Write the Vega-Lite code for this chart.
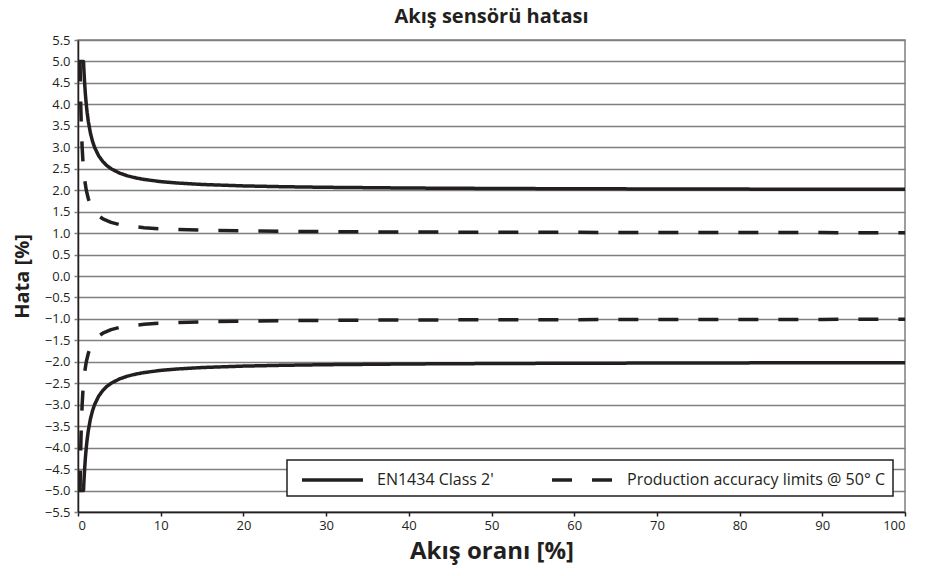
{
  "$schema": "https://vega.github.io/schema/vega-lite/v6.json",
  "width": 827,
  "height": 472,
  "autosize": {"type": "none"},
  "padding": {"left": 78, "top": 40, "right": 25, "bottom": 64},
  "background": "white",
  "title": {
    "text": "Akış sensörü hatası",
    "font": "Open Sans",
    "fontSize": 20,
    "fontWeight": "bold",
    "color": "#231f20",
    "offset": 7
  },
  "config": {
    "font": "Open Sans",
    "view": {"stroke": "#7f7f7f", "strokeWidth": 1.5},
    "legend": {"strokeWidth": 1.5}
  },
  "data": {
    "values": [
      {"x": 0, "y": 5, "series": "EN1434 Class 2'", "part": "s+"},
      {"x": 0.667, "y": 5, "series": "EN1434 Class 2'", "part": "s+"},
      {"x": 0.7, "y": 4.857, "series": "EN1434 Class 2'", "part": "s+"},
      {"x": 0.75, "y": 4.667, "series": "EN1434 Class 2'", "part": "s+"},
      {"x": 0.8, "y": 4.5, "series": "EN1434 Class 2'", "part": "s+"},
      {"x": 0.9, "y": 4.222, "series": "EN1434 Class 2'", "part": "s+"},
      {"x": 1, "y": 4, "series": "EN1434 Class 2'", "part": "s+"},
      {"x": 1.1, "y": 3.818, "series": "EN1434 Class 2'", "part": "s+"},
      {"x": 1.25, "y": 3.6, "series": "EN1434 Class 2'", "part": "s+"},
      {"x": 1.5, "y": 3.333, "series": "EN1434 Class 2'", "part": "s+"},
      {"x": 1.75, "y": 3.143, "series": "EN1434 Class 2'", "part": "s+"},
      {"x": 2, "y": 3, "series": "EN1434 Class 2'", "part": "s+"},
      {"x": 2.5, "y": 2.8, "series": "EN1434 Class 2'", "part": "s+"},
      {"x": 3, "y": 2.667, "series": "EN1434 Class 2'", "part": "s+"},
      {"x": 3.5, "y": 2.571, "series": "EN1434 Class 2'", "part": "s+"},
      {"x": 4, "y": 2.5, "series": "EN1434 Class 2'", "part": "s+"},
      {"x": 5, "y": 2.4, "series": "EN1434 Class 2'", "part": "s+"},
      {"x": 6, "y": 2.333, "series": "EN1434 Class 2'", "part": "s+"},
      {"x": 7, "y": 2.286, "series": "EN1434 Class 2'", "part": "s+"},
      {"x": 8, "y": 2.25, "series": "EN1434 Class 2'", "part": "s+"},
      {"x": 10, "y": 2.2, "series": "EN1434 Class 2'", "part": "s+"},
      {"x": 12, "y": 2.167, "series": "EN1434 Class 2'", "part": "s+"},
      {"x": 15, "y": 2.133, "series": "EN1434 Class 2'", "part": "s+"},
      {"x": 20, "y": 2.1, "series": "EN1434 Class 2'", "part": "s+"},
      {"x": 25, "y": 2.08, "series": "EN1434 Class 2'", "part": "s+"},
      {"x": 30, "y": 2.067, "series": "EN1434 Class 2'", "part": "s+"},
      {"x": 40, "y": 2.05, "series": "EN1434 Class 2'", "part": "s+"},
      {"x": 50, "y": 2.04, "series": "EN1434 Class 2'", "part": "s+"},
      {"x": 60, "y": 2.033, "series": "EN1434 Class 2'", "part": "s+"},
      {"x": 70, "y": 2.029, "series": "EN1434 Class 2'", "part": "s+"},
      {"x": 80, "y": 2.025, "series": "EN1434 Class 2'", "part": "s+"},
      {"x": 90, "y": 2.022, "series": "EN1434 Class 2'", "part": "s+"},
      {"x": 100, "y": 2.02, "series": "EN1434 Class 2'", "part": "s+"},

      {"x": 0, "y": -5, "series": "EN1434 Class 2'", "part": "s-"},
      {"x": 0.667, "y": -5, "series": "EN1434 Class 2'", "part": "s-"},
      {"x": 0.7, "y": -4.857, "series": "EN1434 Class 2'", "part": "s-"},
      {"x": 0.75, "y": -4.667, "series": "EN1434 Class 2'", "part": "s-"},
      {"x": 0.8, "y": -4.5, "series": "EN1434 Class 2'", "part": "s-"},
      {"x": 0.9, "y": -4.222, "series": "EN1434 Class 2'", "part": "s-"},
      {"x": 1, "y": -4, "series": "EN1434 Class 2'", "part": "s-"},
      {"x": 1.1, "y": -3.818, "series": "EN1434 Class 2'", "part": "s-"},
      {"x": 1.25, "y": -3.6, "series": "EN1434 Class 2'", "part": "s-"},
      {"x": 1.5, "y": -3.333, "series": "EN1434 Class 2'", "part": "s-"},
      {"x": 1.75, "y": -3.143, "series": "EN1434 Class 2'", "part": "s-"},
      {"x": 2, "y": -3, "series": "EN1434 Class 2'", "part": "s-"},
      {"x": 2.5, "y": -2.8, "series": "EN1434 Class 2'", "part": "s-"},
      {"x": 3, "y": -2.667, "series": "EN1434 Class 2'", "part": "s-"},
      {"x": 3.5, "y": -2.571, "series": "EN1434 Class 2'", "part": "s-"},
      {"x": 4, "y": -2.5, "series": "EN1434 Class 2'", "part": "s-"},
      {"x": 5, "y": -2.4, "series": "EN1434 Class 2'", "part": "s-"},
      {"x": 6, "y": -2.333, "series": "EN1434 Class 2'", "part": "s-"},
      {"x": 7, "y": -2.286, "series": "EN1434 Class 2'", "part": "s-"},
      {"x": 8, "y": -2.25, "series": "EN1434 Class 2'", "part": "s-"},
      {"x": 10, "y": -2.2, "series": "EN1434 Class 2'", "part": "s-"},
      {"x": 12, "y": -2.167, "series": "EN1434 Class 2'", "part": "s-"},
      {"x": 15, "y": -2.133, "series": "EN1434 Class 2'", "part": "s-"},
      {"x": 20, "y": -2.1, "series": "EN1434 Class 2'", "part": "s-"},
      {"x": 25, "y": -2.08, "series": "EN1434 Class 2'", "part": "s-"},
      {"x": 30, "y": -2.067, "series": "EN1434 Class 2'", "part": "s-"},
      {"x": 40, "y": -2.05, "series": "EN1434 Class 2'", "part": "s-"},
      {"x": 50, "y": -2.04, "series": "EN1434 Class 2'", "part": "s-"},
      {"x": 60, "y": -2.033, "series": "EN1434 Class 2'", "part": "s-"},
      {"x": 70, "y": -2.029, "series": "EN1434 Class 2'", "part": "s-"},
      {"x": 80, "y": -2.025, "series": "EN1434 Class 2'", "part": "s-"},
      {"x": 90, "y": -2.022, "series": "EN1434 Class 2'", "part": "s-"},
      {"x": 100, "y": -2.02, "series": "EN1434 Class 2'", "part": "s-"},

      {"x": 0.25, "y": 5, "series": "Production accuracy limits @ 50° C", "part": "d+"},
      {"x": 0.3, "y": 4.333, "series": "Production accuracy limits @ 50° C", "part": "d+"},
      {"x": 0.35, "y": 3.857, "series": "Production accuracy limits @ 50° C", "part": "d+"},
      {"x": 0.4, "y": 3.5, "series": "Production accuracy limits @ 50° C", "part": "d+"},
      {"x": 0.5, "y": 3, "series": "Production accuracy limits @ 50° C", "part": "d+"},
      {"x": 0.6, "y": 2.667, "series": "Production accuracy limits @ 50° C", "part": "d+"},
      {"x": 0.7, "y": 2.429, "series": "Production accuracy limits @ 50° C", "part": "d+"},
      {"x": 0.8, "y": 2.25, "series": "Production accuracy limits @ 50° C", "part": "d+"},
      {"x": 1, "y": 2, "series": "Production accuracy limits @ 50° C", "part": "d+"},
      {"x": 1.25, "y": 1.8, "series": "Production accuracy limits @ 50° C", "part": "d+"},
      {"x": 1.5, "y": 1.667, "series": "Production accuracy limits @ 50° C", "part": "d+"},
      {"x": 1.75, "y": 1.571, "series": "Production accuracy limits @ 50° C", "part": "d+"},
      {"x": 2, "y": 1.5, "series": "Production accuracy limits @ 50° C", "part": "d+"},
      {"x": 2.5, "y": 1.4, "series": "Production accuracy limits @ 50° C", "part": "d+"},
      {"x": 3, "y": 1.333, "series": "Production accuracy limits @ 50° C", "part": "d+"},
      {"x": 4, "y": 1.25, "series": "Production accuracy limits @ 50° C", "part": "d+"},
      {"x": 5, "y": 1.2, "series": "Production accuracy limits @ 50° C", "part": "d+"},
      {"x": 6, "y": 1.167, "series": "Production accuracy limits @ 50° C", "part": "d+"},
      {"x": 8, "y": 1.125, "series": "Production accuracy limits @ 50° C", "part": "d+"},
      {"x": 10, "y": 1.1, "series": "Production accuracy limits @ 50° C", "part": "d+"},
      {"x": 12, "y": 1.083, "series": "Production accuracy limits @ 50° C", "part": "d+"},
      {"x": 15, "y": 1.067, "series": "Production accuracy limits @ 50° C", "part": "d+"},
      {"x": 20, "y": 1.05, "series": "Production accuracy limits @ 50° C", "part": "d+"},
      {"x": 25, "y": 1.04, "series": "Production accuracy limits @ 50° C", "part": "d+"},
      {"x": 30, "y": 1.033, "series": "Production accuracy limits @ 50° C", "part": "d+"},
      {"x": 40, "y": 1.025, "series": "Production accuracy limits @ 50° C", "part": "d+"},
      {"x": 50, "y": 1.02, "series": "Production accuracy limits @ 50° C", "part": "d+"},
      {"x": 60, "y": 1.017, "series": "Production accuracy limits @ 50° C", "part": "d+"},
      {"x": 70, "y": 1.014, "series": "Production accuracy limits @ 50° C", "part": "d+"},
      {"x": 80, "y": 1.0125, "series": "Production accuracy limits @ 50° C", "part": "d+"},
      {"x": 90, "y": 1.011, "series": "Production accuracy limits @ 50° C", "part": "d+"},
      {"x": 100, "y": 1.01, "series": "Production accuracy limits @ 50° C", "part": "d+"},

      {"x": 0.25, "y": -5, "series": "Production accuracy limits @ 50° C", "part": "d-"},
      {"x": 0.3, "y": -4.333, "series": "Production accuracy limits @ 50° C", "part": "d-"},
      {"x": 0.35, "y": -3.857, "series": "Production accuracy limits @ 50° C", "part": "d-"},
      {"x": 0.4, "y": -3.5, "series": "Production accuracy limits @ 50° C", "part": "d-"},
      {"x": 0.5, "y": -3, "series": "Production accuracy limits @ 50° C", "part": "d-"},
      {"x": 0.6, "y": -2.667, "series": "Production accuracy limits @ 50° C", "part": "d-"},
      {"x": 0.7, "y": -2.429, "series": "Production accuracy limits @ 50° C", "part": "d-"},
      {"x": 0.8, "y": -2.25, "series": "Production accuracy limits @ 50° C", "part": "d-"},
      {"x": 1, "y": -2, "series": "Production accuracy limits @ 50° C", "part": "d-"},
      {"x": 1.25, "y": -1.8, "series": "Production accuracy limits @ 50° C", "part": "d-"},
      {"x": 1.5, "y": -1.667, "series": "Production accuracy limits @ 50° C", "part": "d-"},
      {"x": 1.75, "y": -1.571, "series": "Production accuracy limits @ 50° C", "part": "d-"},
      {"x": 2, "y": -1.5, "series": "Production accuracy limits @ 50° C", "part": "d-"},
      {"x": 2.5, "y": -1.4, "series": "Production accuracy limits @ 50° C", "part": "d-"},
      {"x": 3, "y": -1.333, "series": "Production accuracy limits @ 50° C", "part": "d-"},
      {"x": 4, "y": -1.25, "series": "Production accuracy limits @ 50° C", "part": "d-"},
      {"x": 5, "y": -1.2, "series": "Production accuracy limits @ 50° C", "part": "d-"},
      {"x": 6, "y": -1.167, "series": "Production accuracy limits @ 50° C", "part": "d-"},
      {"x": 8, "y": -1.125, "series": "Production accuracy limits @ 50° C", "part": "d-"},
      {"x": 10, "y": -1.1, "series": "Production accuracy limits @ 50° C", "part": "d-"},
      {"x": 12, "y": -1.083, "series": "Production accuracy limits @ 50° C", "part": "d-"},
      {"x": 15, "y": -1.067, "series": "Production accuracy limits @ 50° C", "part": "d-"},
      {"x": 20, "y": -1.05, "series": "Production accuracy limits @ 50° C", "part": "d-"},
      {"x": 25, "y": -1.04, "series": "Production accuracy limits @ 50° C", "part": "d-"},
      {"x": 30, "y": -1.033, "series": "Production accuracy limits @ 50° C", "part": "d-"},
      {"x": 40, "y": -1.025, "series": "Production accuracy limits @ 50° C", "part": "d-"},
      {"x": 50, "y": -1.02, "series": "Production accuracy limits @ 50° C", "part": "d-"},
      {"x": 60, "y": -1.017, "series": "Production accuracy limits @ 50° C", "part": "d-"},
      {"x": 70, "y": -1.014, "series": "Production accuracy limits @ 50° C", "part": "d-"},
      {"x": 80, "y": -1.0125, "series": "Production accuracy limits @ 50° C", "part": "d-"},
      {"x": 90, "y": -1.011, "series": "Production accuracy limits @ 50° C", "part": "d-"},
      {"x": 100, "y": -1.01, "series": "Production accuracy limits @ 50° C", "part": "d-"}
    ]
  },
  "mark": {"type": "line", "color": "#231f20", "strokeWidth": 3.5, "strokeCap": "butt", "strokeJoin": "round", "clip": true},
  "encoding": {
    "x": {
      "field": "x",
      "type": "quantitative",
      "scale": {"domain": [0, 100], "nice": false},
      "axis": {
        "values": [0, 10, 20, 30, 40, 50, 60, 70, 80, 90, 100],
        "grid": false,
        "title": "Akış oranı [%]",
        "titleFont": "Open Sans",
        "titleFontSize": 24,
        "titleFontWeight": "bold",
        "titleColor": "#231f20",
        "titlePadding": 7,
        "labelFont": "Open Sans",
        "labelFontSize": 13,
        "labelColor": "#231f20",
        "labelPadding": 3,
        "tickSize": 4,
        "tickColor": "#231f20",
        "tickWidth": 1.5,
        "domainColor": "#231f20",
        "domainWidth": 1.5
      }
    },
    "y": {
      "field": "y",
      "type": "quantitative",
      "scale": {"domain": [-5.5, 5.5], "nice": false, "zero": false},
      "axis": {
        "values": [-5.5, -5, -4.5, -4, -3.5, -3, -2.5, -2, -1.5, -1, -0.5, 0, 0.5, 1, 1.5, 2, 2.5, 3, 3.5, 4, 4.5, 5, 5.5],
        "format": ".1f",
        "grid": true,
        "gridColor": "#7f7f7f",
        "gridWidth": 1.5,
        "title": "Hata [%]",
        "titleFont": "Open Sans",
        "titleFontSize": 20,
        "titleFontWeight": "bold",
        "titleColor": "#231f20",
        "titlePadding": 12,
        "labelFont": "Open Sans",
        "labelFontSize": 13,
        "labelColor": "#231f20",
        "labelPadding": 4,
        "tickSize": 4,
        "tickColor": "#7f7f7f",
        "tickWidth": 1.5,
        "domainColor": "#231f20",
        "domainWidth": 1.5
      }
    },
    "detail": {"field": "part"},
    "strokeDash": {
      "field": "series",
      "type": "nominal",
      "scale": {
        "domain": ["EN1434 Class 2'", "Production accuracy limits @ 50° C"],
        "range": [[1, 0], [20, 20]]
      },
      "legend": {
        "title": null,
        "orient": "none",
        "legendX": 209,
        "legendY": 420,
        "direction": "horizontal",
        "columns": 2,
        "columnPadding": 51,
        "fillColor": "white",
        "strokeColor": "#231f20",
        "padding": 8,
        "labelFont": "Open Sans",
        "labelFontSize": 16,
        "labelColor": "#231f20",
        "labelLimit": 400,
        "labelOffset": 58,
        "symbolType": "M-3.05,0H3.05",
        "symbolSize": 400,
        "symbolStrokeWidth": 3.5,
        "symbolStrokeColor": "#231f20",
        "symbolFillColor": "transparent",
        "encode": {
          "symbols": {
            "update": {
              "x": {"value": 37.5}
            }
          }
        }
      }
    }
  }
}
